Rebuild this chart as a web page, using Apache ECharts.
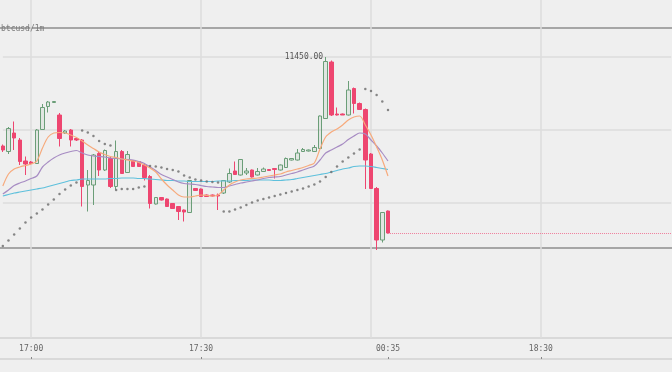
<!DOCTYPE html>
<html>
<head>
<meta charset="utf-8">
<script src="https://cdn.jsdelivr.net/npm/echarts@6/dist/echarts.min.js"></script>
<style>
html,body{margin:0;padding:0;background:#efefef;}
#chart{width:672px;height:372px;}
</style>
</head>
<body>
<div id="chart"></div>
<script>
// ---- data (1-minute candles, btcusd) ----
const symbolText = 'btcusd/1m';
const startMinute = 16 * 60 + 55;   // first category 16:55
const categoryCount = 119;
const tickLabels = ['17:00', '17:30', '18:30'];
const gridTimes = ['17:00', '17:30', '18:00', '18:30'];
const cursorLabel = '00:35';

const opens = [11361,11355.5,11374,11367,11346,11345,11343.5,11377.5,11400.5,11404.5,
  11392,11374,11377,11368.5,11367,11322,11322,11353.5,11337,11348.5,
  11320.5,11355.5,11334.5,11346.5,11345.5,11342,11330.5,11303,11309.5,11308,
  11303.5,11300.5,11297,11294.5,11318.5,11318,11312,11312,11312,11314,
  11325,11336,11332,11334,11337,11332,11335.5,11337.5,11338.5,11337,
  11339.5,11347,11347,11355.5,11356,11355.5,11358.5,11388.5,11445,11393,
  11393,11392,11418.5,11403.5,11397.5,11353,11318.5,11267,11296];
const closes = [11357,11378.5,11369,11345.5,11343,11343.5,11377,11399.5,11405,11405.5,
  11368.5,11376,11367,11367,11320.5,11326.5,11352,11337,11356.5,11320.5,
  11355.5,11333.5,11352.5,11340.5,11340.5,11329.5,11303.5,11309.5,11307,11300.5,
  11298.5,11295.5,11295,11326.5,11316.5,11310.5,11310.5,11311,11311,11326.5,
  11333.5,11332.5,11347.5,11336,11330,11335.5,11338,11336.5,11337.5,11342,
  11348.5,11348.5,11354,11357.5,11357,11359.5,11391,11445.5,11392,11392,
  11392,11417,11403.5,11397.5,11347,11318.5,11267,11294.5,11274];
const lows = [11355,11353,11357,11342,11332,11342.5,11343,11377,11394.5,11404.5,
  11360.5,11373,11360.5,11366,11300.5,11295.5,11302,11331,11336,11319,
  11317.5,11333,11334,11340,11340,11326.5,11298.5,11302.5,11306.5,11300,
  11298,11287,11285.5,11294,11316,11310,11310,11310.5,11297,11313,
  11324,11332,11331.5,11332,11329.5,11331.5,11335,11336,11328.5,11336.5,
  11339,11346.5,11346.5,11355,11355.5,11355,11358,11388,11391,11391.5,
  11392,11391.5,11393.5,11397,11318,11318,11257,11264.5,11273.5];
const highs = [11362.5,11380,11385.5,11369,11350.5,11346,11378,11403,11406,11405.5,
  11394,11377,11378,11369,11368,11337,11353,11356,11357.5,11350,
  11366.5,11357,11356,11347,11346,11344,11332,11310,11310,11308.5,
  11304,11301,11297.5,11327,11319,11318.5,11312.5,11312.5,11313.5,11327,
  11338.5,11345.5,11348,11339,11337.5,11339,11339.5,11338,11338.5,11342.5,
  11349.5,11349,11358,11359,11357.5,11362,11391.5,11450,11446.5,11399.5,
  11393.5,11426,11419.5,11404.5,11398.5,11354,11320,11295,11296.5];

const maFast = [11321,11333,11338,11340,11341.5,11343,11346,11359,11370,11374,
  11374.5,11374,11372,11369.5,11366,11362,11358.5,11355,11352.5,11350.5,
  11349.5,11348,11347,11346,11344.5,11342,11339,11335,11328,11322,
  11317,11312,11310,11310,11311,11312,11311.5,11311,11312,11317,
  11322,11325,11327,11328,11328.5,11329,11330,11331,11332,11333,
  11335,11336.5,11338,11339.5,11341.5,11344,11358,11370,11375,11378,
  11382,11387,11390,11391,11382,11372,11360,11347,11331];
const maMid = [11313,11317,11321.5,11324,11326,11328.5,11331,11340,11345,11349,
  11352,11354,11355.5,11356.5,11354,11352,11351,11350.5,11350,11349,
  11348.5,11348,11347.5,11347,11345.5,11343.5,11340,11336.5,11332.5,11330,
  11327.5,11325,11323.5,11323,11322.5,11321.5,11320.5,11320,11319.5,11319.5,
  11321,11322.5,11324,11325,11326,11327,11328.5,11329.5,11330,11330.5,
  11332,11333.5,11335,11337,11339,11341,11347,11354,11357,11360,
  11363,11367.5,11371,11374,11373,11367,11361,11354,11346];
const maSlow = [11311,11312.5,11314,11315,11316,11317,11318,11319,11320.5,11322,
  11323.5,11325,11326.5,11327,11328,11328,11328,11328,11328,11328.5,
  11328.5,11329,11329,11329,11328.5,11328.5,11328,11327.5,11327,11326.5,
  11326.5,11326,11326,11325.5,11325.5,11325.5,11325.5,11325.5,11326,11326,
  11326,11326.5,11326.5,11326.5,11327,11327,11327,11327,11326.5,11326.5,
  11327,11327.5,11328.5,11329.5,11330.5,11331.5,11332.5,11333.5,11335,11336.5,
  11338,11339,11340.5,11341,11341,11340.5,11339.5,11338.5,11337.5];
const sar = [11261,11266.5,11272.5,11278.5,11284.5,11289.5,11293.5,11297.5,11302.5,11307.5,
  11313,11317.5,11321.5,11324.5,11376.5,11374.5,11371,11366,11363,11361.5,
  11317,11318,11318,11318,11319.5,11320.5,11341,11340.5,11339.5,11338,
  11337,11335.5,11331.5,11329.5,11327.5,11326.5,11325.5,11325,11324.5,11295.5,
  11295.5,11297.5,11299.5,11302,11304.5,11306.5,11308,11309.5,11311,11312.5,
  11314,11315.5,11317,11318.5,11320.5,11322.5,11325.5,11330,11335,11340.5,
  11345.5,11349.5,11353.5,11357.5,11418,11416,11412,11405.5,11397];

// ---- build ----
const categories = [];
for (let i = 0; i < categoryCount; i++) {
  const m = startMinute + i;
  categories.push(String(Math.floor(m / 60)).padStart(2, '0') + ':' + String(m % 60).padStart(2, '0'));
}
const lastIndex = closes.length - 1;
const candles = opens.map((o, i) => [o, closes[i], lows[i], highs[i]]);

const mono = 'DejaVu Sans Mono';
const chart = echarts.init(document.getElementById('chart'), null, {renderer: 'canvas'});
const gridL = 2.832, gridR = 0.832;
const frameAxis = (idx, color, width) => ({
  gridIndex: idx, type: 'value', min: 0, max: 1, interval: 1,
  axisLine: {show: false}, axisTick: {show: false}, axisLabel: {show: false},
  splitLine: {show: true, showMinLine: true, showMaxLine: true, lineStyle: {color: color, width: width}}
});

chart.setOption({
  animation: false,
  backgroundColor: '#efefef',
  title: {
    text: symbolText, left: 1, top: 25, padding: 0,
    textStyle: {fontSize: 8, fontFamily: mono, color: '#7a7a7a', fontWeight: 'normal'}
  },
  grid: [
    {left: gridL, right: gridR, top: 0, height: 276},
    {left: gridL, right: gridR, top: 0, height: 338},
    {left: 0, right: 0, top: 28, height: 220},
    {left: 0, right: 0, top: 338, height: 21}
  ],
  xAxis: [
    {gridIndex: 0, type: 'category', data: categories, boundaryGap: false, show: false},
    {gridIndex: 1, type: 'category', data: categories, boundaryGap: false,
      axisLine: {show: false}, axisTick: {show: false},
      axisLabel: {
        interval: (idx, val) => tickLabels.includes(val) || idx === lastIndex,
        formatter: (val, idx) => idx === lastIndex ? cursorLabel : val,
        margin: 7, fontSize: 8, fontFamily: mono, color: '#666'
      },
      splitLine: {show: true, interval: (idx, val) => gridTimes.includes(val),
        lineStyle: {color: '#dcdcdc', width: 1.5}}
    },
    {gridIndex: 1, type: 'category', data: categories, boundaryGap: false, position: 'bottom', offset: 21,
      axisLine: {show: false}, axisLabel: {show: false}, splitLine: {show: false},
      axisTick: {show: true, inside: true, length: 2,
        interval: (idx, val) => tickLabels.includes(val) || idx === lastIndex,
        lineStyle: {color: '#888', width: 1}}
    },
    {gridIndex: 2, type: 'value', show: false},
    {gridIndex: 3, type: 'value', show: false}
  ],
  yAxis: [
    {gridIndex: 0, type: 'value', min: 11231, max: 11507, interval: 73,
      axisLine: {show: false}, axisTick: {show: false}, axisLabel: {show: false},
      splitLine: {show: true, showMinLine: false, showMaxLine: false,
        lineStyle: {color: '#dcdcdc', width: 1.5}}},
    {gridIndex: 1, type: 'value', show: false},
    frameAxis(2, '#a6a6a6', 2),
    frameAxis(3, '#d2d2d2', 1.5)
  ],
  series: [
    {
      type: 'candlestick', xAxisIndex: 0, yAxisIndex: 0, data: candles,
      barWidth: 4, clip: false, z: 2,
      itemStyle: {
        color: 'rgba(107,158,120,0.10)', color0: '#ee4670',
        borderColor: '#6b9e78', borderColor0: '#ee4670', borderWidth: 1
      },
      markPoint: {
        symbol: 'rect', symbolSize: 1, silent: true,
        itemStyle: {color: 'rgba(0,0,0,0)'},
        label: {show: true, position: 'left', distance: 2,
          formatter: p => Number(p.value).toFixed(2),
          fontSize: 8, fontFamily: mono, color: '#555'},
        data: [{type: 'max', valueDim: 'highest'}]
      },
      markLine: {
        silent: true, symbol: ['none', 'none'], label: {show: false},
        lineStyle: {type: 'dotted', color: '#ef7f9c', width: 1},
        data: [[
          {xAxis: categories[lastIndex], yAxis: closes[lastIndex]},
          {xAxis: categories[categories.length - 1], yAxis: closes[lastIndex]}
        ]]
      }
    },
    {type: 'line', xAxisIndex: 0, yAxisIndex: 0, data: maSlow, showSymbol: false, smooth: 0.3, z: 3,
      lineStyle: {color: '#5ec0dc', width: 1.2}},
    {type: 'line', xAxisIndex: 0, yAxisIndex: 0, data: maMid, showSymbol: false, smooth: 0.3, z: 3,
      lineStyle: {color: '#a78cc3', width: 1.2}},
    {type: 'line', xAxisIndex: 0, yAxisIndex: 0, data: maFast, showSymbol: false, smooth: 0.3, z: 3,
      lineStyle: {color: '#f7aa7c', width: 1.2}},
    {type: 'scatter', xAxisIndex: 0, yAxisIndex: 0, data: sar, symbolSize: 2.5, z: 4,
      itemStyle: {color: '#6a6a6a'}}
  ]
});
</script>
</body>
</html>
